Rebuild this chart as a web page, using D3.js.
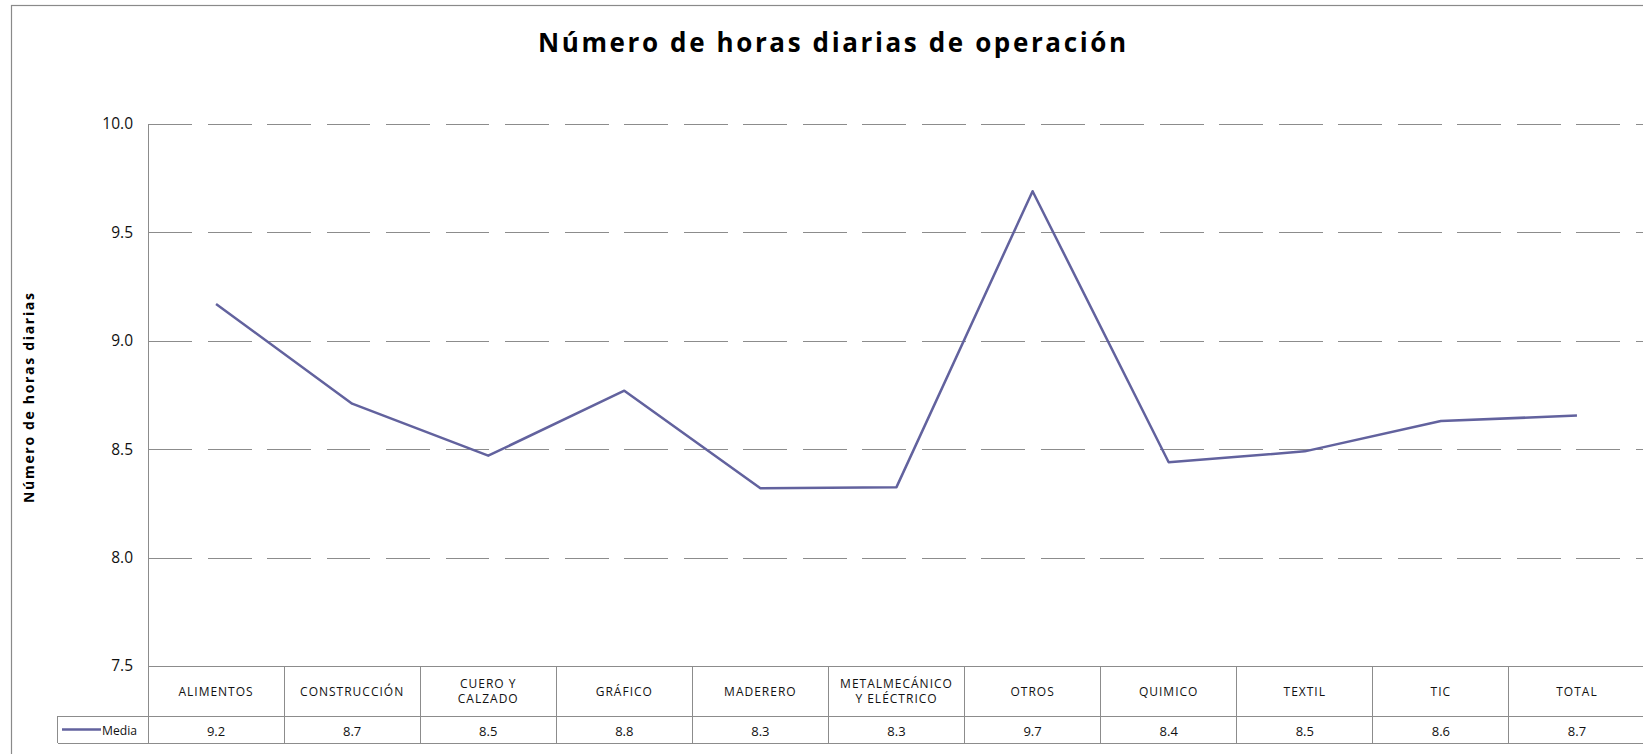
<!DOCTYPE html>
<html><head><meta charset="utf-8">
<script src="https://cdn.jsdelivr.net/npm/d3@7/dist/d3.min.js"></script>
<style>
html,body{margin:0;padding:0;background:#fff;overflow:hidden}
svg{display:block;font-family:"Open Sans","Noto Sans",sans-serif}
</style></head><body>
<svg id="c" width="1643" height="754"></svg>
<script>
const title = "Número de horas diarias de operación";
const yTitle = "Número de horas diarias";
const seriesName = "Media";
const categories = ["ALIMENTOS","CONSTRUCCIÓN","CUERO Y\nCALZADO","GRÁFICO","MADERERO","METALMECÁNICO\nY ELÉCTRICO","OTROS","QUIMICO","TEXTIL","TIC","TOTAL"];
const values = [9.17, 8.71, 8.47, 8.77, 8.32, 8.325, 9.69, 8.44, 8.49, 8.63, 8.655];
const yTicks = [7.5, 8.0, 8.5, 9.0, 9.5, 10.0];

const svg = d3.select("#c");
const L = 148, R = 1645, T = 124, B = 666;
const rowCat = 716, rowVal = 743, legLeft = 57.5;
const lineColor = "#62629e", gridColor = "#8c8c8c";

// outer frame
svg.append("rect").attr("x",11.5).attr("y",5.5).attr("width",1700).attr("height",800)
  .attr("fill","none").attr("stroke","#8a8a8a").attr("stroke-width",1.2);

const x = d3.scaleBand().domain(categories).range([L, R]).padding(0);
const y = d3.scaleLinear().domain([7.5, 10]).range([B, T]);
const cx = d => x(d) + x.bandwidth()/2;

// gridlines
const grid = svg.append("g").attr("transform",`translate(${L},0)`)
  .call(d3.axisLeft(y).tickValues(yTicks.filter(v=>v>7.5)).tickSize(-(R-L)).tickFormat(""));
grid.select(".domain").remove();
grid.selectAll("line").attr("stroke",gridColor).attr("stroke-width",1).attr("stroke-dasharray","44,15.5")
  .attr("shape-rendering","crispEdges");

// y axis
const ya = svg.append("g").attr("transform",`translate(${L},0)`)
  .call(d3.axisLeft(y).tickValues(yTicks).tickSize(0).tickPadding(15).tickFormat(d3.format(".1f")));
ya.select(".domain").attr("stroke",gridColor).attr("shape-rendering","crispEdges");
ya.selectAll("text").attr("font-size",15.5).attr("fill","#111").attr("font-family","'Open Sans',sans-serif");

// table lines
const tl = svg.append("g").attr("stroke",gridColor).attr("stroke-width",1).attr("shape-rendering","crispEdges");
tl.append("line").attr("x1",L).attr("x2",R).attr("y1",y(7.5)).attr("y2",y(7.5));
tl.append("line").attr("x1",legLeft).attr("x2",R).attr("y1",rowCat).attr("y2",rowCat);
tl.append("line").attr("x1",legLeft).attr("x2",R).attr("y1",rowVal).attr("y2",rowVal);
tl.append("line").attr("x1",L).attr("x2",L).attr("y1",T).attr("y2",rowVal);
tl.append("line").attr("x1",legLeft).attr("x2",legLeft).attr("y1",rowCat).attr("y2",rowVal);
tl.selectAll(".vb").data(categories.slice(1)).enter().append("line")
  .attr("x1",d=>x(d)).attr("x2",d=>x(d)).attr("y1",B).attr("y2",rowVal);

// category labels
const catG = svg.append("g").attr("font-size",12).attr("fill","#111").attr("text-anchor","middle")
  .attr("letter-spacing","1px");
categories.forEach(c => {
  const parts = c.split("\n");
  const mid = (B + rowCat)/2;
  parts.forEach((p,i) => {
    catG.append("text").attr("x",cx(c)).attr("y", mid + (i - (parts.length-1)/2)*15)
      .attr("dominant-baseline","central").text(p);
  });
});

// value labels
svg.append("g").selectAll("text").data(categories).enter().append("text")
  .attr("x",d=>cx(d)).attr("y",(rowCat+rowVal)/2+1).attr("dominant-baseline","central")
  .attr("text-anchor","middle").attr("font-size",13).attr("fill","#111")
  .text((d,i)=>d3.format(".1f")(values[i]));

// legend key
svg.append("line").attr("x1",62).attr("x2",101).attr("y1",(rowCat+rowVal)/2).attr("y2",(rowCat+rowVal)/2)
  .attr("stroke",lineColor).attr("stroke-width",2.5);
svg.append("text").attr("x",102).attr("y",(rowCat+rowVal)/2+1).attr("dominant-baseline","central")
  .attr("font-size",12.5).attr("fill","#111").attr("textLength",35).attr("lengthAdjust","spacingAndGlyphs").text(seriesName);

// line
svg.append("path").datum(categories.map((c,i)=>[cx(c), y(values[i])]))
  .attr("d", d3.line()).attr("fill","none").attr("stroke",lineColor).attr("stroke-width",2.5)
  .attr("stroke-linejoin","round");

// title
svg.append("text").attr("x",538).attr("y",52).attr("font-size",26).attr("font-weight","bold")
  .attr("fill","#000").attr("textLength",588).attr("lengthAdjust","spacing").text(title);

// y title
svg.append("text").attr("transform","translate(28,398) rotate(-90)").attr("text-anchor","middle")
  .attr("dominant-baseline","central").attr("font-size",14).attr("font-weight","bold").attr("fill","#000")
  .attr("textLength",210).attr("lengthAdjust","spacing").text(yTitle);
</script>
</body></html>
